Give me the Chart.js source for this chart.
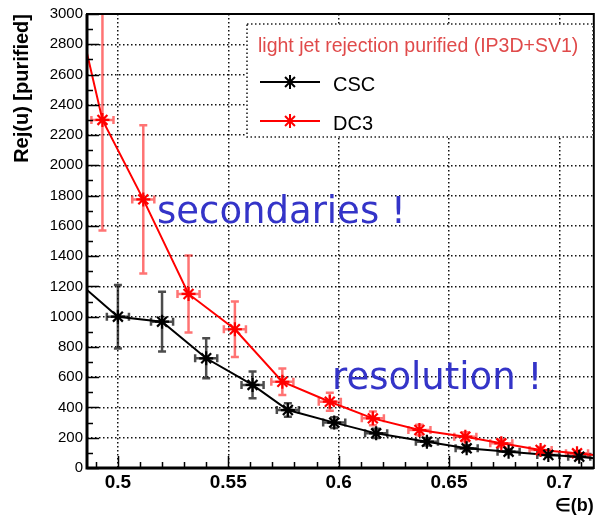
<!DOCTYPE html>
<html>
<head>
<meta charset="utf-8">
<script src="https://cdn.jsdelivr.net/npm/chart.js@4.4.1/dist/chart.umd.min.js"></script>
<style>
  html, body { margin: 0; padding: 0; background: #fff; }
  #wrap { width: 603px; height: 515px; }
</style>
</head>
<body>
<div id="wrap"><canvas id="rejChart" width="603" height="515"></canvas></div>
<script>
// light jet rejection vs b-tagging efficiency, CSC and DC3 samples
const cscEff = [0.500, 0.520, 0.540, 0.561, 0.577, 0.598, 0.617, 0.640, 0.658, 0.677, 0.695, 0.709];
const cscRej = [1000, 967, 725, 549, 383, 300, 229, 174, 130, 108, 86, 75];
const cscErr = [210, 198, 132, 88, 45, 35, 30, 25, 20, 15, 12, 10];

const dc3Eff = [0.493, 0.5115, 0.532, 0.553, 0.5745, 0.596, 0.6155, 0.6366, 0.6574, 0.6737, 0.6915, 0.708];
const dc3Rej = [2300, 1775, 1150, 917, 570, 438, 328, 251, 207, 163, 119, 97];
const dc3Err = [730, 490, 255, 183, 88, 60, 45, 35, 30, 25, 20, 15];

// curve values where it meets the left and right frame
const cscEnds = [1176, 64];
const dc3Ends = [2740, 86];

const effHalfBin = 0.005;
const effRange = [0.486, 0.7156];
const rejRange = [0, 3000];
const xTicks = [0.5, 0.55, 0.6, 0.65, 0.7];
const yTicks = [0, 200, 400, 600, 800, 1000, 1200, 1400, 1600, 1800, 2000, 2200, 2400, 2600, 2800, 3000];

const legendTitle = 'light jet rejection purified (IP3D+SV1)';
const notes = ['secondaries !', 'resolution !'];

const series = [
  { label: 'CSC', eff: cscEff, rej: cscRej, err: cscErr, ends: cscEnds, color: '#000000', barColor: 'rgba(0,0,0,0.7)' },
  { label: 'DC3', eff: dc3Eff, rej: dc3Rej, err: dc3Err, ends: dc3Ends, color: '#ff0000', barColor: 'rgba(255,0,0,0.55)' }
];

function curveData(s) {
  const pts = s.eff.map((x, i) => ({ x: x, y: s.rej[i] }));
  return [{ x: effRange[0], y: s.ends[0] }].concat(pts, [{ x: effRange[1], y: s.ends[1] }]);
}

const datasets = [];
series.forEach(s => {
  datasets.push({
    type: 'line', label: s.label + ' curve', data: curveData(s),
    borderColor: s.color, borderWidth: 2, pointRadius: 0, tension: 0, fill: false, order: 2
  });
});
series.forEach(s => {
  datasets.push({
    type: 'scatter', label: s.label, data: s.eff.map((x, i) => ({ x: x, y: s.rej[i] })),
    showLine: false, pointStyle: 'star', pointRadius: 7, pointBorderWidth: 2.2,
    borderColor: s.color, backgroundColor: s.color, order: 1
  });
});

const frameBits = {
  id: 'frameBits',
  beforeDatasetsDraw(chart) {
    const { ctx, chartArea: a, scales: { x, y } } = chart;
    ctx.save();
    ctx.beginPath();
    ctx.rect(a.left, a.top, a.right - a.left, a.bottom - a.top);
    ctx.clip();
    series.forEach(s => {
      ctx.strokeStyle = s.barColor;
      ctx.lineWidth = 2.5;
      s.eff.forEach((e, i) => {
        const px = x.getPixelForValue(e);
        const py = y.getPixelForValue(s.rej[i]);
        const yHi = y.getPixelForValue(s.rej[i] + s.err[i]);
        const yLo = y.getPixelForValue(s.rej[i] - s.err[i]);
        const xL = x.getPixelForValue(e - effHalfBin);
        const xR = x.getPixelForValue(e + effHalfBin);
        ctx.beginPath();
        ctx.moveTo(px, yHi); ctx.lineTo(px, yLo);
        ctx.moveTo(px - 4, yHi); ctx.lineTo(px + 4, yHi);
        ctx.moveTo(px - 4, yLo); ctx.lineTo(px + 4, yLo);
        ctx.moveTo(xL, py); ctx.lineTo(xR, py);
        ctx.moveTo(xL, py - 4); ctx.lineTo(xL, py + 4);
        ctx.moveTo(xR, py - 4); ctx.lineTo(xR, py + 4);
        ctx.stroke();
      });
    });
    ctx.restore();
  },
  afterDraw(chart) {
    const { ctx, chartArea: a, scales: { x, y } } = chart;
    ctx.save();

    // inward tick marks, ROOT style
    ctx.strokeStyle = '#000';
    ctx.lineWidth = 1.5;
    ctx.beginPath();
    for (let v = rejRange[0]; v <= rejRange[1]; v += 100) {
      const py = Math.round(y.getPixelForValue(v)) + 0.5;
      const len = v % 200 === 0 ? 12 : 6;
      ctx.moveTo(a.left, py); ctx.lineTo(a.left + len, py);
    }
    for (let k = 49; k <= 71; k++) {
      const v = k / 100;
      if (v < effRange[0] || v > effRange[1]) continue;
      const px = Math.round(x.getPixelForValue(v)) + 0.5;
      const len = k % 5 === 0 ? 12 : 6;
      ctx.moveTo(px, a.bottom); ctx.lineTo(px, a.bottom - len);
    }
    ctx.stroke();

    // frame
    ctx.lineWidth = 2;
    ctx.strokeRect(a.left, a.top, a.right - a.left, a.bottom - a.top);
    ctx.lineWidth = 3;
    ctx.beginPath();
    ctx.moveTo(a.left, a.top); ctx.lineTo(a.left, a.bottom); ctx.lineTo(a.right, a.bottom);
    ctx.stroke();

    // legend box
    ctx.fillStyle = '#fff';
    ctx.fillRect(247, 24, 346, 113);
    ctx.lineWidth = 1.6;
    ctx.strokeStyle = '#222';
    ctx.setLineDash([1.5, 2.5]);
    ctx.strokeRect(247, 24, 346, 113);
    ctx.setLineDash([]);
    ctx.font = '19.5px "Liberation Sans", Arial, sans-serif';
    ctx.fillStyle = '#e04a4a';
    ctx.textBaseline = 'alphabetic';
    ctx.textAlign = 'left';
    ctx.fillText(legendTitle, 258, 52);
    series.forEach((s, i) => {
      const ly = 82 + i * 39;
      ctx.strokeStyle = s.color;
      ctx.lineWidth = 2;
      ctx.beginPath();
      ctx.moveTo(260, ly); ctx.lineTo(320, ly);
      ctx.stroke();
      Chart.helpers.drawPoint(ctx, { pointStyle: 'star', radius: 7, rotation: 0, borderWidth: 2 }, 290, ly);
      ctx.fillStyle = '#000';
      ctx.font = '20px "Liberation Sans", Arial, sans-serif';
      ctx.fillText(s.label, 333, ly + 9);
    });

    // annotations
    ctx.fillStyle = '#3434c8';
    ctx.font = '37px "DejaVu Sans", sans-serif';
    ctx.fillText(notes[0], 157, 223);
    ctx.fillText(notes[1], 332, 389);
    ctx.restore();
  }
};

new Chart(document.getElementById('rejChart'), {
  data: { datasets: datasets },
  options: {
    responsive: false,
    animation: false,
    layout: { padding: { top: 14, right: 3, left: 0, bottom: 0 } },
    plugins: { legend: { display: false }, tooltip: { enabled: false } },
    scales: {
      x: {
        type: 'linear', min: effRange[0], max: effRange[1],
        afterBuildTicks: s => { s.ticks = xTicks.map(v => ({ value: v })); },
        afterFit: s => { s.height = 47; },
        grid: { color: '#111', lineWidth: 1.5, drawTicks: false },
        border: { display: false, dash: [1.5, 2.5] },
        ticks: {
          autoSkip: false, maxRotation: 0, padding: 3, color: '#000',
          font: { family: '"Liberation Sans", Arial, sans-serif', size: 19, weight: 'bold' },
          callback: v => String(v)
        },
        title: {
          display: true, text: '\u2208(b)', align: 'end', color: '#000',
          font: { family: '"Liberation Sans", Arial, sans-serif', size: 18, weight: 'bold', lineHeight: 1 },
          padding: { top: 0, bottom: 0 }
        }
      },
      y: {
        type: 'linear', min: rejRange[0], max: rejRange[1],
        afterBuildTicks: s => { s.ticks = yTicks.map(v => ({ value: v })); },
        afterFit: s => { s.width = 87; },
        grid: { color: '#111', lineWidth: 1.5, drawTicks: false },
        border: { display: false, dash: [1.5, 2.5] },
        ticks: {
          padding: 4, color: '#000',
          font: { family: '"Liberation Sans", Arial, sans-serif', size: 15 },
          callback: v => String(v)
        },
        title: {
          display: true, text: 'Rej(u) [purified]', align: 'end', color: '#000',
          font: { family: '"Liberation Sans", Arial, sans-serif', size: 20, weight: 'bold', lineHeight: 1.2 },
          padding: { top: 10, bottom: 0 }
        }
      }
    }
  },
  plugins: [frameBits]
});
</script>
</body>
</html>
